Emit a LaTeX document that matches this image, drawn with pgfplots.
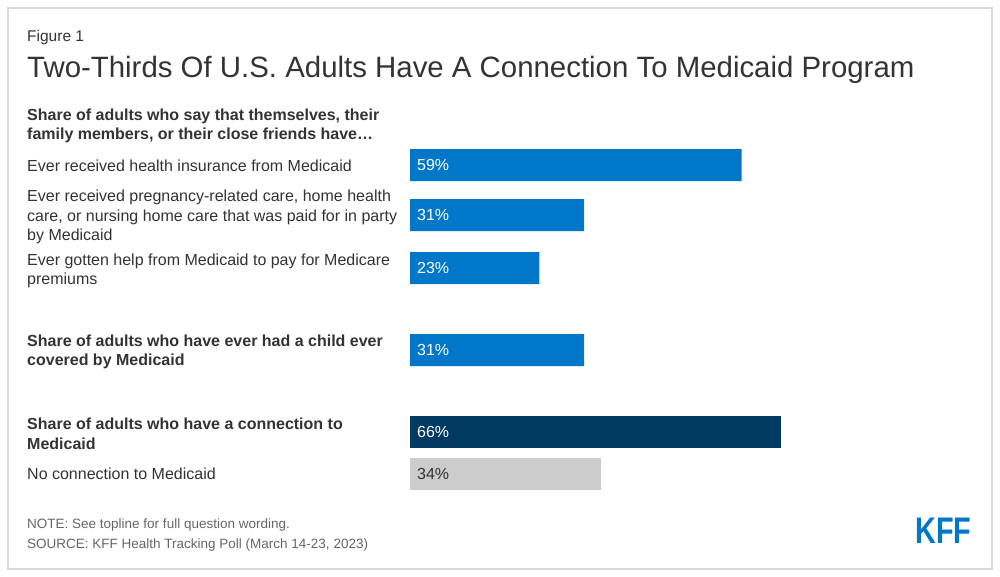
\documentclass[border=0pt]{standalone}
\usepackage{pgfplots}
\pgfplotsset{compat=1.18}
\usepackage{graphicx}
\usepackage{fontspec}
\setmainfont{Liberation Sans}
\definecolor{kffblue}{HTML}{0077C8}
\definecolor{kffnavy}{HTML}{003A63}
\definecolor{kffgray}{HTML}{CCCCCC}
\definecolor{txt}{HTML}{333333}
\definecolor{notetxt}{HTML}{666666}
\definecolor{framegray}{HTML}{D9D9D9}
\newcommand{\lbl}{\fontsize{16pt}{19.5pt}\selectfont}

\begin{document}
\begin{tikzpicture}
% page and frame
\fill[white] (0pt,0pt) rectangle (1000pt,-577pt);
\draw[framegray, line width=2pt] (8pt,-8pt) rectangle (992pt,-569pt);

% titles
\node[anchor=west, inner sep=0pt, text=txt, font=\fontsize{15.5pt}{18pt}\selectfont] at (27pt,-37pt) {Figure 1};
\node[anchor=west, inner sep=0pt, text=txt, font=\fontsize{29.4pt}{34pt}\selectfont] at (27pt,-70pt) {Two-Thirds Of U.S. Adults Have A Connection To Medicaid Program};

% category labels
\begin{scope}[every node/.style={anchor=west, inner sep=0pt, text=txt, align=left, font=\lbl}]
\node at (27pt,-126pt) {\bfseries Share of adults who say that themselves, their\\\bfseries family members, or their close friends have\dots};
\node at (27pt,-166pt) {Ever received health insurance from Medicaid};
\node at (27pt,-217pt) {Ever received pregnancy-related care, home health\\care, or nursing home care that was paid for in party\\by Medicaid};
\node at (27pt,-271pt) {Ever gotten help from Medicaid to pay for Medicare\\premiums};
\node at (27pt,-352pt) {\bfseries Share of adults who have ever had a child ever\\\bfseries covered by Medicaid};
\node at (27pt,-434pt) {\bfseries Share of adults who have a connection to\\\bfseries Medicaid};
\node at (27pt,-474pt) {No connection to Medicaid};
\end{scope}

% notes
\node[anchor=west, inner sep=0pt, text=notetxt, font=\fontsize{13.5pt}{16pt}\selectfont] at (27pt,-525pt) {NOTE: See topline for full question wording.};
\node[anchor=west, inner sep=0pt, text=notetxt, font=\fontsize{13.5pt}{16pt}\selectfont] at (27pt,-545pt) {SOURCE: KFF Health Tracking Poll (March 14-23, 2023)};

% logo
\node[inner sep=0pt, text=kffblue, font=\fontsize{37pt}{40pt}\selectfont\bfseries] at (943.5pt,-531pt) {\scalebox{0.78}[1]{KFF}};

\begin{axis}[
    at={(410pt,-140pt)}, anchor=north west,
    scale only axis, width=562pt, height=360pt,
    xmin=0, xmax=100, ymin=140, ymax=500, y dir=reverse,
    axis lines=none,
    xbar, bar width=32pt, bar shift=0pt,
    point meta=x,
    /pgf/number format/assume math mode=true,
    visualization depends on={x \as \xv},
    nodes near coords={\pgfmathprintnumber\pgfplotspointmeta\%},
    every node near coord/.append style={anchor=west, inner sep=0pt,
        xshift={-5.62pt*\xv+7pt}, text=white, font=\lbl},
]
\addplot[fill=kffblue, draw=none] coordinates {(59,165) (31,215) (23,268) (31,350)};
\addplot[fill=kffnavy, draw=none] coordinates {(66,432)};
\addplot[fill=kffgray, draw=none, every node near coord/.append style={text=txt}] coordinates {(34,474)};
\end{axis}
\end{tikzpicture}
\end{document}
